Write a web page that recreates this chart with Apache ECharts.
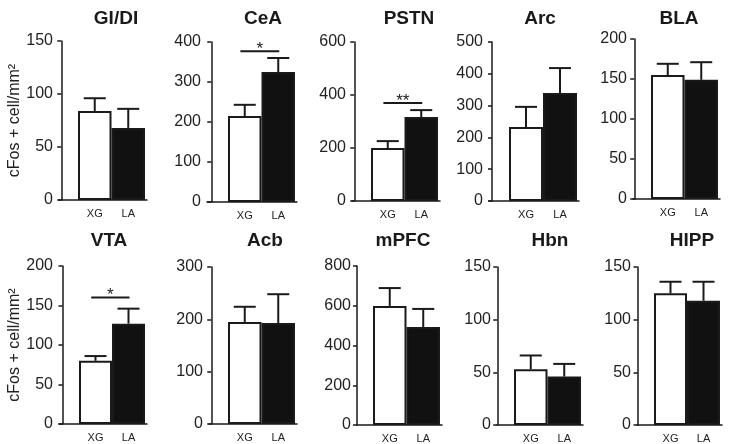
<!DOCTYPE html>
<html><head><meta charset="utf-8">
<script src="https://cdn.jsdelivr.net/npm/echarts@6/dist/echarts.min.js"></script>
<style>html,body{margin:0;padding:0;background:#fff}#c{width:738px;height:444px}</style>
</head><body><div id="c"></div>
<script>
// ---- data ----
const regions = ['GI/DI','CeA','PSTN','Arc','BLA','VTA','Acb','mPFC','Hbn','HIPP'];
const groups = ['XG','LA'];
const xgMean = [84, 215, 200, 233, 155, 80, 195, 599, 53, 125];
const xgSem  = [12, 28, 26, 63, 14, 6, 29, 90, 13, 11];
const laMean = [68, 325, 317, 340, 149, 127, 193, 493, 46, 118];
const laSem  = [18, 35, 26, 78, 22, 19, 55, 91, 12, 18];
const yMax   = [150, 400, 600, 500, 200, 200, 300, 800, 150, 150];
const yStep  = [50, 100, 200, 100, 50, 50, 100, 200, 50, 50];
const sigPanel = [1, 2, 5];
const sigLevel = [377, 370, 160];
const sigLabel = ['*', '**', '*'];
const yName = 'cFos + cell/mm\u00B2';

// ---- layout (pixels) ----
const axisX    = [59, 207, 352, 489, 633, 59, 209, 357, 497, 637];
const barStart = [78, 228, 371, 509, 651, 79, 228, 373, 514, 654];
const barEnd   = [145, 295, 438, 577, 718, 145, 295, 440, 581, 720];
const plotTop  = [41, 42, 42, 42, 39, 266, 267, 266, 267, 267];
const plotBot  = [200, 202, 201, 201, 199, 424, 424, 425, 426, 426];
const titleX   = [116, 263, 409, 540, 679, 109, 265, 403, 550, 692];
const titleTop = [9, 231];

const SANS = '"Liberation Sans",Arial,sans-serif';
const INK = '#1a1a1a';

const grid = [], xAxis = [], yAxis = [], series = [], title = [];
regions.forEach((name, i) => {
  const L = axisX[i];
  const bw = (barEnd[i] - barStart[i]) / 2;
  const R = barEnd[i] + 2;
  const cXG = barStart[i] + bw / 2;
  const xmin = 1 - (cXG - L) / bw;
  const xmax = 2 + (R - (cXG + bw)) / bw;
  grid.push({left: L, top: plotTop[i], width: R - L, height: plotBot[i] - plotTop[i], containLabel: false});
  title.push({
    text: name, left: titleX[i], top: titleTop[i < 5 ? 0 : 1], textAlign: 'center', padding: 0,
    textStyle: {fontFamily: SANS, fontWeight: 'bold', fontSize: 19, color: INK}
  });
  xAxis.push({
    type: 'value', gridIndex: i, min: xmin, max: xmax,
    axisLine: {show: true, lineStyle: {color: INK, width: 1.5}},
    axisTick: {show: false}, splitLine: {show: false},
    axisLabel: {customValues: [1, 2], formatter: v => groups[Math.round(v) - 1] || '',
      fontFamily: SANS, fontSize: 11, color: '#222', margin: 8}
  });
  const ya = {
    type: 'value', gridIndex: i, min: 0, max: yMax[i], interval: yStep[i],
    axisLine: {show: true, lineStyle: {color: INK, width: 1.5}},
    axisTick: {show: true, length: 4, lineStyle: {color: INK, width: 1.5}},
    splitLine: {show: false},
    axisLabel: {fontFamily: SANS, fontSize: 16, color: '#222', margin: 6}
  };
  if (i === 0 || i === 5) {
    Object.assign(ya, {name: yName, nameLocation: 'middle', nameRotate: 90, nameGap: 35,
      nameTextStyle: {fontFamily: SANS, fontSize: 16, color: '#222'}});
  }
  yAxis.push(ya);
  series.push({
    type: 'bar', xAxisIndex: i, yAxisIndex: i, barWidth: bw, silent: true, z: 2,
    data: [
      {value: [1, xgMean[i]], itemStyle: {color: '#fff', borderColor: INK, borderWidth: 2}},
      {value: [2, laMean[i]], itemStyle: {color: '#111', borderColor: INK, borderWidth: 2}}
    ]
  });
  series.push({
    type: 'custom', xAxisIndex: i, yAxisIndex: i, silent: true, z: 3,
    data: [[1, xgMean[i], xgSem[i]], [2, laMean[i], laSem[i]]],
    renderItem: (params, api) => {
      const x = api.value(0), m = api.value(1), e = api.value(2);
      const p0 = api.coord([x, m]), p1 = api.coord([x, m + e]);
      const st = {stroke: INK, lineWidth: 2};
      return {type: 'group', children: [
        {type: 'line', shape: {x1: p0[0], y1: p0[1], x2: p1[0], y2: p1[1]}, style: st},
        {type: 'line', shape: {x1: p1[0] - 11, y1: p1[1], x2: p1[0] + 11, y2: p1[1]}, style: st}
      ]};
    }
  });
});

sigPanel.forEach((p, k) => {
  series.push({
    type: 'custom', xAxisIndex: p, yAxisIndex: p, silent: true, z: 4,
    data: [[0.87, 2.03, sigLevel[k]]],
    renderItem: (params, api) => {
      const a = api.coord([api.value(0), api.value(2)]);
      const b = api.coord([api.value(1), api.value(2)]);
      return {type: 'group', children: [
        {type: 'line', shape: {x1: a[0], y1: a[1], x2: b[0], y2: b[1]}, style: {stroke: INK, lineWidth: 2}},
        {type: 'text', x: (a[0] + b[0]) / 2, y: a[1] - 2,
          style: {text: sigLabel[k], fontFamily: SANS, fontSize: 17, fill: INK, align: 'center', verticalAlign: 'middle'}}
      ]};
    }
  });
});

const chart = echarts.init(document.getElementById('c'), null, {renderer: 'canvas'});
chart.setOption({animation: false, backgroundColor: '#fff', title, grid, xAxis, yAxis, series});
</script>
</body></html>
